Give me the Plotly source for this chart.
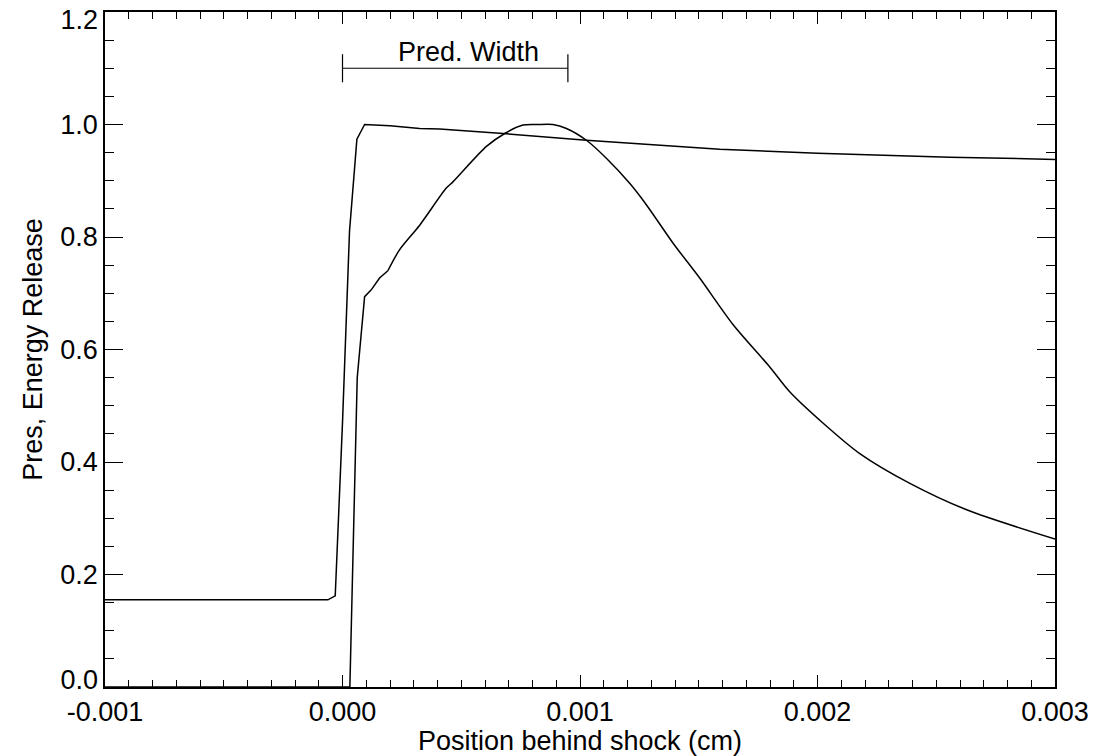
import plotly.graph_objects as go

# Pressure (normalised)
pres_x = [-0.001, -0.0000615, -0.0000306, 0.0, 0.0000295, 0.0000606, 0.0000931,
          0.0002, 0.000325, 0.000409, 0.000676, 0.001027, 0.001588, 0.002, 0.002557, 0.003]
pres_y = [0.155, 0.155, 0.162, 0.47, 0.81, 0.974, 1.0,
          0.998, 0.993, 0.992, 0.984, 0.972, 0.956, 0.949, 0.942, 0.938]

# Energy release (normalised)
er_x = [-0.001, 0.000031, 0.000062, 0.0000931, 0.000121, 0.000156, 0.000191, 0.00024,
        0.000325, 0.000437, 0.000465, 0.000606, 0.000683, 0.00076, 0.00082, 0.000886,
        0.000943, 0.001027, 0.001111, 0.00121, 0.00128, 0.001392, 0.001504, 0.001645,
        0.001799, 0.001883, 0.002024, 0.002178, 0.002389, 0.002628, 0.003]
er_y = [0.0, 0.0, 0.55, 0.694, 0.706, 0.727, 0.740, 0.777,
        0.821, 0.887, 0.898, 0.961, 0.984, 0.999, 1.0, 1.0,
        0.993, 0.972, 0.940, 0.895, 0.857, 0.789, 0.727, 0.644,
        0.569, 0.525, 0.469, 0.415, 0.362, 0.315, 0.263]

# Predicted width marker
width_start = 0.0
width_end = 0.000949
width_level = 1.1
cap_half = 0.025
width_label = "Pred. Width"
width_label_x = 0.000227
width_label_y = 1.098

x_tickvals = [-0.001, 0.0, 0.001, 0.002, 0.003]
x_ticktext = ["-0.001", "0.000", "0.001", "0.002", "0.003"]
y_tickvals = [0.0, 0.2, 0.4, 0.6, 0.8, 1.0, 1.2]
y_ticktext = ["0.0", "0.2", "0.4", "0.6", "0.8", "1.0", "1.2"]

FONT = "Liberation Sans, Arial, Helvetica, sans-serif"
FS = 27
Y_RANGE = [0, 1.2]
line = dict(color="black", width=1.5)

SPLIT = 6  # steep onset drawn with straight segments, smooth body afterwards

fig = go.Figure()
fig.add_trace(go.Scatter(x=pres_x, y=pres_y, mode="lines", line=line, showlegend=False))
fig.add_trace(go.Scatter(x=er_x[:SPLIT + 1], y=er_y[:SPLIT + 1], mode="lines",
                         line=line, showlegend=False))
fig.add_trace(go.Scatter(x=er_x[SPLIT:], y=er_y[SPLIT:], mode="lines",
                         line=dict(color="black", width=1.5, shape="spline", smoothing=0.8),
                         showlegend=False))
fig.add_trace(go.Scatter(
    x=[width_start, width_end, None, width_start, width_start, None, width_end, width_end],
    y=[width_level, width_level, None, width_level - cap_half, width_level + cap_half, None,
       width_level - cap_half, width_level + cap_half],
    mode="lines", line=dict(color="black", width=1.2), showlegend=False))
# empty traces so the edge-label axes are rendered
fig.add_trace(go.Scatter(x=[None], y=[None], yaxis="y2", showlegend=False, hoverinfo="skip"))
fig.add_trace(go.Scatter(x=[None], y=[None], yaxis="y3", showlegend=False, hoverinfo="skip"))

fig.add_annotation(x=width_label_x, y=width_label_y, xref="x", yref="y", text=width_label,
                   showarrow=False, xanchor="left", yanchor="bottom",
                   font=dict(family=FONT, size=FS, color="black"))

tickfont = dict(family=FONT, size=FS, color="black")

fig.update_xaxes(range=[-0.001, 0.003], tickvals=x_tickvals, ticktext=x_ticktext,
                 ticks="inside", ticklen=12, tickwidth=1.2, tickcolor="black",
                 minor=dict(dtick=0.0001, ticks="inside", ticklen=7, tickwidth=1.2, tickcolor="black"),
                 showline=True, linecolor="black", linewidth=1.5, mirror="ticks",
                 showgrid=False, zeroline=False, automargin=False,
                 title=dict(text="Position behind shock (cm)", standoff=0,
                            font=dict(family=FONT, size=FS, color="black")),
                 tickfont=tickfont)

fig.update_layout(
    yaxis=dict(range=Y_RANGE, tickvals=y_tickvals,
               ticktext=[t if 0 < v < 1.2 else "" for v, t in zip(y_tickvals, y_ticktext)],
               ticks="inside", ticklen=18, tickwidth=1.2, tickcolor="black",
               minor=dict(dtick=0.05, ticks="inside", ticklen=9, tickwidth=1.2, tickcolor="black"),
               showline=True, linecolor="black", linewidth=1.5, mirror="ticks",
               showgrid=False, zeroline=False, automargin=False,
               title=dict(text="Pres, Energy Release", standoff=10,
                          font=dict(family=FONT, size=FS, color="black")),
               tickfont=tickfont),
    # top edge label nudged down, bottom edge label nudged up (as in the original)
    yaxis2=dict(range=Y_RANGE, overlaying="y", side="left", anchor="x",
                tickvals=y_tickvals[-1:], ticktext=y_ticktext[-1:], ticks="",
                ticklabelshift=8, ticklabelstandoff=6, showline=False, showgrid=False,
                zeroline=False, automargin=False, tickfont=tickfont),
    yaxis3=dict(range=Y_RANGE, overlaying="y", side="left", anchor="x",
                tickvals=y_tickvals[:1], ticktext=y_ticktext[:1], ticks="",
                ticklabelshift=-7, ticklabelstandoff=6, showline=False, showgrid=False,
                zeroline=False, automargin=False, tickfont=tickfont),
    width=1100, height=756, plot_bgcolor="white", paper_bgcolor="white",
    margin=dict(l=105, r=45, t=12, b=69), font=dict(family=FONT))

fig.write_html("out.html", config={"displayModeBar": False},
               post_script="document.body.style.margin='0';document.body.style.overflow='hidden';")
